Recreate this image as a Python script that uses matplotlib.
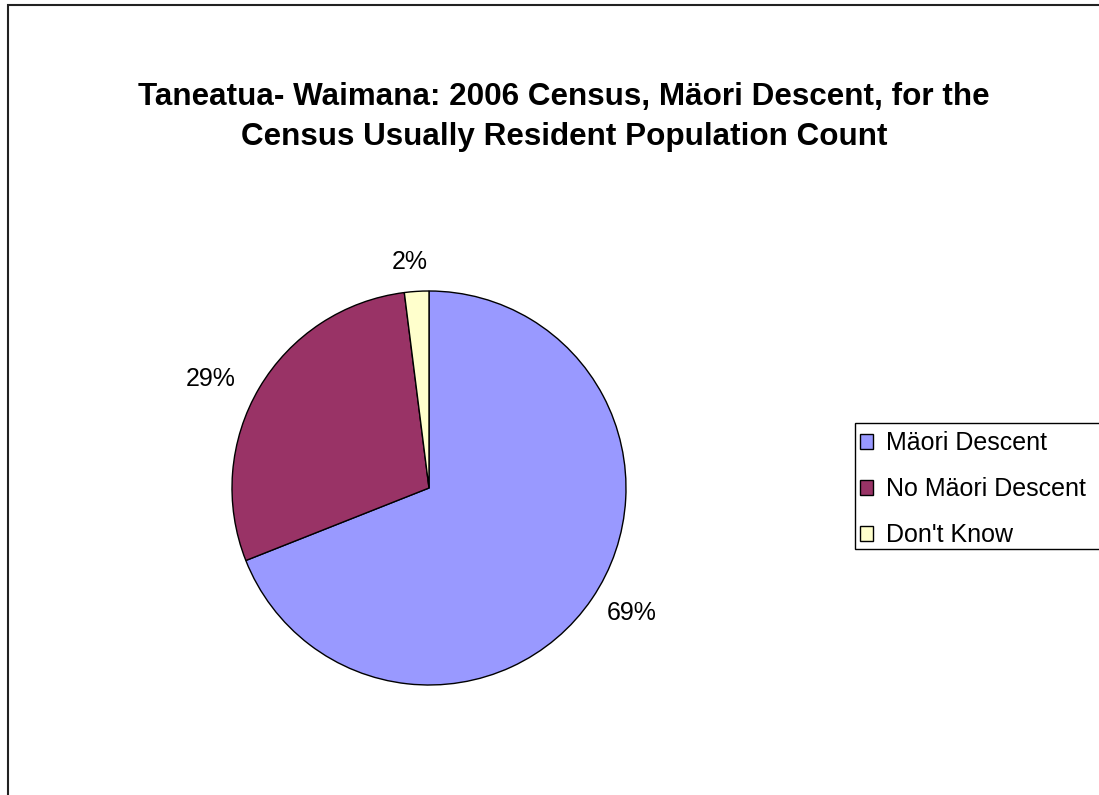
import numpy as np
import matplotlib.pyplot as plt
from matplotlib.patches import Rectangle

plt.rcParams['font.family'] = ['Liberation Sans', 'DejaVu Sans']

categories = ['Mäori Descent', 'No Mäori Descent', "Don't Know"]
shares = [69, 29, 2]
colors = ['#9999FF', '#993366', '#FFFFCC']
# radial distance and angle nudge (deg) for each percentage label
label_dist = [1.21, 1.24, 1.15]
label_nudge = [2.5, 4.0, 1.2]

W, H = 1099, 795
fig = plt.figure(figsize=(W / 100, H / 100), dpi=100)

# outer chart frame, running off the right and bottom edges
fig.patches.append(Rectangle((7.5 / W, -0.1), 1.2, 1 - 4.5 / H + 0.1,
                             transform=fig.transFigure, fill=False,
                             edgecolor='#222222', linewidth=1.5))

fig.text(564 / W, 1 - 82 / H,
         'Taneatua- Waimana: 2006 Census, Mäori Descent, for the\n'
         'Census Usually Resident Population Count',
         ha='center', va='top', fontsize=22.6, fontweight='bold',
         linespacing=1.42)

cx, cy, r = 429, 488, 197
ax = fig.add_axes([(cx - r) / W, (H - cy - r) / H, 2 * r / W, 2 * r / H])
wedges, texts, autotexts = ax.pie(
    shares, colors=colors, startangle=90, counterclock=False,
    autopct='%1.0f%%', pctdistance=1.2,
    wedgeprops=dict(edgecolor='black', linewidth=1.0),
    textprops=dict(fontsize=18))
for w, t, d, n in zip(wedges, autotexts, label_dist, label_nudge):
    mid = np.deg2rad((w.theta1 + w.theta2) / 2 + n)
    t.set_position((d * np.cos(mid), d * np.sin(mid)))
    t.set_clip_on(False)
ax.set_xlim(-1, 1)
ax.set_ylim(-1, 1)
ax.axis('off')

# legend box runs past the right edge, so draw its frame separately
fig.patches.append(Rectangle((854.5 / W, 1 - 548.5 / H), 0.3, 125.5 / H,
                             transform=fig.transFigure, facecolor='white',
                             edgecolor='black', linewidth=1.0, zorder=0))
leg = fig.legend(wedges, categories, loc='upper left',
                 bbox_to_anchor=(854 / W, 1 - 425 / H), fontsize=18,
                 frameon=False,
                 handlelength=0.5, handleheight=0.5, handletextpad=0.55,
                 labelspacing=0.88, borderpad=0.25, borderaxespad=0)
for h in leg.legend_handles:
    h.set_linewidth(1.0)

fig.savefig('out.png', dpi=100)
